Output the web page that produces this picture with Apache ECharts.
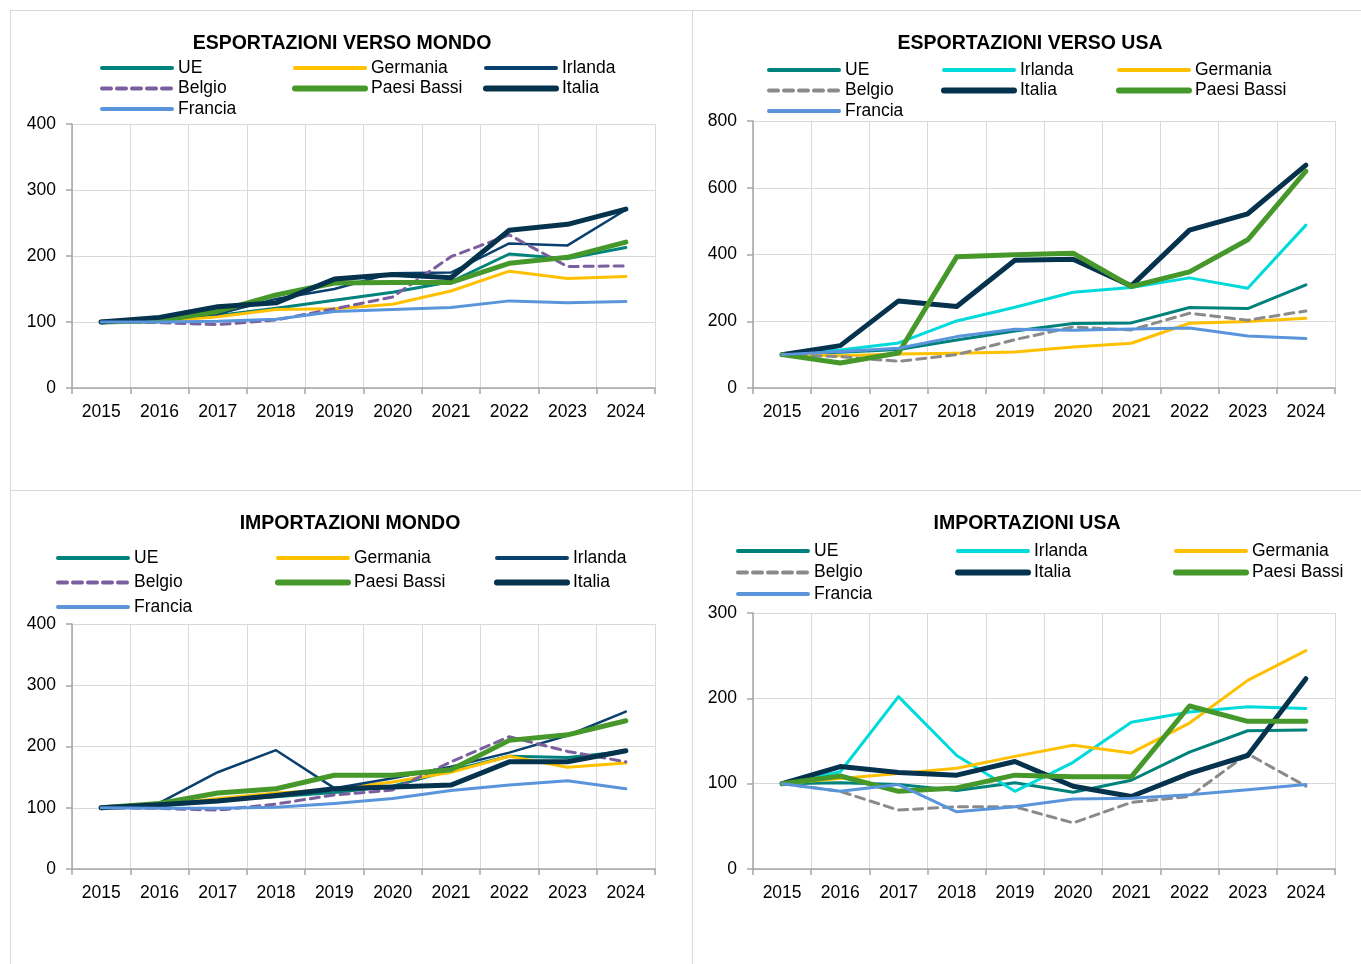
<!DOCTYPE html>
<html><head><meta charset="utf-8">
<script src="https://cdn.jsdelivr.net/npm/echarts@6/dist/echarts.min.js"></script>
<style>
html,body{margin:0;padding:0;background:#fff;width:1361px;height:964px;overflow:hidden;}
.panel{position:absolute;}
.ln{position:absolute;background:#d9d9d9;}
</style></head>
<body>
<div class="ln" style="left:10px;top:10px;width:1351px;height:1px"></div>
<div class="ln" style="left:10px;top:10px;width:1px;height:954px"></div>
<div class="ln" style="left:692px;top:10px;width:1px;height:954px"></div>
<div class="ln" style="left:10px;top:490px;width:1351px;height:1px"></div>
<div id="p1" class="panel" style="left:11px;top:11px;width:681px;height:479px"></div>
<div id="p2" class="panel" style="left:693px;top:11px;width:668px;height:479px"></div>
<div id="p3" class="panel" style="left:11px;top:491px;width:681px;height:473px"></div>
<div id="p4" class="panel" style="left:693px;top:491px;width:668px;height:473px"></div>
<script>
// ---- data ----
const years = ['2015','2016','2017','2018','2019','2020','2021','2022','2023','2024'];

// Esportazioni verso mondo
const expWorldUE       = [100,101,110,121,133,145,161,203,196,213];
const expWorldGermania = [100,101,108,119,120,127,147,177,166,169];
const expWorldIrlanda  = [100,105,112,135,150,174,175,219,216,270];
const expWorldBelgio   = [100,99,96,103,120,138,199,232,184,185];
const expWorldPB       = [100,102,116,141,159,160,160,189,198,221];
const expWorldItalia   = [100,107,123,129,165,172,167,239,248,271];
const expWorldFrancia  = [100,100,101,104,116,119,122,132,129,131];

// Esportazioni verso USA
const expUsaUE       = [100,107,115,144,171,193,195,241,238,309];
const expUsaIrlanda  = [100,114,135,201,242,287,301,330,299,488];
const expUsaGermania = [100,97,102,104,108,123,134,194,199,209];
const expUsaBelgio   = [100,94,80,100,145,183,174,224,203,231];
const expUsaItalia   = [100,127,261,244,383,386,306,473,522,668];
const expUsaPB       = [100,75,105,393,399,404,304,348,444,650];
const expUsaFrancia  = [100,109,119,154,176,173,177,180,156,148];

// Importazioni mondo
const impWorldUE       = [100,103,112,118,125,135,161,184,182,192];
const impWorldGermania = [100,104,115,124,130,142,158,184,166,173];
const impWorldIrlanda  = [100,108,158,194,132,148,167,190,218,257];
const impWorldBelgio   = [100,99,96,106,121,129,175,216,192,175];
const impWorldPB       = [100,107,124,131,153,153,162,210,219,242];
const impWorldItalia   = [100,105,111,120,131,134,137,175,175,193];
const impWorldFrancia  = [100,99,99,101,107,115,128,137,144,131];

// Importazioni USA
const impUsaUE       = [100,101,99,92,101,90,104,137,162,163];
const impUsaIrlanda  = [100,114,202,133,91,125,172,184,190,188];
const impUsaGermania = [100,106,112,118,132,145,136,171,221,256];
const impUsaBelgio   = [100,91,69,73,73,54,78,85,135,97];
const impUsaItalia   = [100,120,113,110,126,97,85,112,133,223];
const impUsaPB       = [100,109,91,95,110,108,108,191,173,173];
const impUsaFrancia  = [100,91,99,67,73,82,83,87,93,99];

// ---- styles ----
const FONT = "'Liberation Sans',Arial,sans-serif";
const ST = {
  UE:        {color:'#00827C', width:3,   lw:4},
  Germania:  {color:'#FFC000', width:3,   lw:4},
  IrlandaW:  {color:'#0A406E', width:2.5, lw:4},
  IrlandaU:  {color:'#00DADA', width:3,   lw:4},
  BelgioW:   {color:'#7A5E9E', width:3,   lw:4, dash:[9,6]},
  BelgioU:   {color:'#8A8A8A', width:3,   lw:4, dash:[9,6]},
  PB:        {color:'#46982A', width:5,   lw:6},
  Italia:    {color:'#05324C', width:5,   lw:6},
  Francia:   {color:'#5A95DC', width:3,   lw:4}
};

function mkSeries(name, data, st){
  return {
    name: name, type:'line', data: data, symbol:'none', animation:false,
    lineStyle:{color:st.color, width:st.width, type: st.dash || 'solid', cap:'round', join:'round'},
    itemStyle:{color:st.color}
  };
}

function mkOption(cfg){
  const styleOf = {};
  cfg.series.forEach((s,i)=>{ styleOf[s.name] = cfg.styles[i]; });
  const leg = cfg.cols.map(c => ({
    left:c.left, top:cfg.legTop, orient:'vertical', padding:0,
    itemWidth:70, itemHeight:20, itemGap:cfg.legGap, selectedMode:false,
    itemStyle:{opacity:0},
    data:c.names.map(n => ({name:n,
      lineStyle:{color:styleOf[n].color, width:styleOf[n].lw, type:styleOf[n].dash || 'solid', cap:'round', opacity:1}})),
    textStyle:{fontFamily:FONT, fontSize:17.5, color:'#000', lineHeight:20, padding:[0,0,0,1]}
  }));
  return {
    animation:false,
    title:{text:cfg.title, left:cfg.titleX, top:cfg.titleY, textAlign:'center', padding:0,
      textStyle:{fontFamily:FONT, fontWeight:'bold', fontSize:19.5, color:'#000'}},
    legend: leg,
    grid:{left:cfg.grid[0], top:cfg.grid[1], width:cfg.grid[2], height:cfg.grid[3], containLabel:false},
    xAxis:{type:'category', data:years, boundaryGap:true,
      axisLine:{lineStyle:{color:'#a6a6a6', width:1.5}},
      axisTick:{show:true, length:6, lineStyle:{color:'#a6a6a6', width:1.5}},
      splitLine:{show:true, lineStyle:{color:'#d9d9d9', width:1}},
      axisLabel:{color:'#000', fontFamily:FONT, fontSize:17.5, margin:15}},
    yAxis:{type:'value', min:0, max:cfg.yMax, interval:cfg.yInt,
      axisLine:{show:true, lineStyle:{color:'#a6a6a6', width:1.5}},
      axisTick:{show:true, length:6, lineStyle:{color:'#a6a6a6', width:1.5}},
      splitLine:{show:true, lineStyle:{color:'#d9d9d9', width:1}},
      axisLabel:{color:'#000', fontFamily:FONT, fontSize:17.5, margin:16}},
    series: cfg.series
  };
}

const opt1 = mkOption({
  title:'ESPORTAZIONI VERSO MONDO', titleX:331, titleY:23,
  grid:[61,113,583,264], yMax:400, yInt:100, legTop:47, legGap:0.5,
  cols:[{left:89,names:['UE','Belgio','Francia']},{left:281,names:['Germania','Paesi Bassi']},{left:472,names:['Irlanda','Italia']}],
  styles:[ST.UE, ST.Germania, ST.IrlandaW, ST.BelgioW, ST.PB, ST.Italia, ST.Francia],
  series:[
    mkSeries('UE', expWorldUE, ST.UE),
    mkSeries('Germania', expWorldGermania, ST.Germania),
    mkSeries('Irlanda', expWorldIrlanda, ST.IrlandaW),
    mkSeries('Belgio', expWorldBelgio, ST.BelgioW),
    mkSeries('Paesi Bassi', expWorldPB, ST.PB),
    mkSeries('Italia', expWorldItalia, ST.Italia),
    mkSeries('Francia', expWorldFrancia, ST.Francia)
  ]
});
const opt2 = mkOption({
  title:'ESPORTAZIONI VERSO USA', titleX:337, titleY:23,
  grid:[60,110,582,267], yMax:800, yInt:200, legTop:49, legGap:0.5,
  cols:[{left:74,names:['UE','Belgio','Francia']},{left:248,names:['Irlanda','Italia']},{left:423,names:['Germania','Paesi Bassi']}],
  styles:[ST.UE, ST.IrlandaU, ST.Germania, ST.BelgioU, ST.Italia, ST.PB, ST.Francia],
  series:[
    mkSeries('UE', expUsaUE, ST.UE),
    mkSeries('Irlanda', expUsaIrlanda, ST.IrlandaU),
    mkSeries('Germania', expUsaGermania, ST.Germania),
    mkSeries('Belgio', expUsaBelgio, ST.BelgioU),
    mkSeries('Italia', expUsaItalia, ST.Italia),
    mkSeries('Paesi Bassi', expUsaPB, ST.PB),
    mkSeries('Francia', expUsaFrancia, ST.Francia)
  ]
});
const opt3 = mkOption({
  title:'IMPORTAZIONI MONDO', titleX:339, titleY:23,
  grid:[61,133,583,245], yMax:400, yInt:100, legTop:57, legGap:4.5,
  cols:[{left:45,names:['UE','Belgio','Francia']},{left:264,names:['Germania','Paesi Bassi']},{left:483,names:['Irlanda','Italia']}],
  styles:[ST.UE, ST.Germania, ST.IrlandaW, ST.BelgioW, ST.PB, ST.Italia, ST.Francia],
  series:[
    mkSeries('UE', impWorldUE, ST.UE),
    mkSeries('Germania', impWorldGermania, ST.Germania),
    mkSeries('Irlanda', impWorldIrlanda, ST.IrlandaW),
    mkSeries('Belgio', impWorldBelgio, ST.BelgioW),
    mkSeries('Paesi Bassi', impWorldPB, ST.PB),
    mkSeries('Italia', impWorldItalia, ST.Italia),
    mkSeries('Francia', impWorldFrancia, ST.Francia)
  ]
});
const opt4 = mkOption({
  title:'IMPORTAZIONI USA', titleX:334, titleY:23,
  grid:[60,122,582,256], yMax:300, yInt:100, legTop:50, legGap:1.5,
  cols:[{left:43,names:['UE','Belgio','Francia']},{left:262,names:['Irlanda','Italia']},{left:480,names:['Germania','Paesi Bassi']}],
  styles:[ST.UE, ST.IrlandaU, ST.Germania, ST.BelgioU, ST.Italia, ST.PB, ST.Francia],
  series:[
    mkSeries('UE', impUsaUE, ST.UE),
    mkSeries('Irlanda', impUsaIrlanda, ST.IrlandaU),
    mkSeries('Germania', impUsaGermania, ST.Germania),
    mkSeries('Belgio', impUsaBelgio, ST.BelgioU),
    mkSeries('Italia', impUsaItalia, ST.Italia),
    mkSeries('Paesi Bassi', impUsaPB, ST.PB),
    mkSeries('Francia', impUsaFrancia, ST.Francia)
  ]
});

[['p1',opt1],['p2',opt2],['p3',opt3],['p4',opt4]].forEach(([id,o])=>{
  const c = echarts.init(document.getElementById(id), null, {renderer:'canvas'});
  c.setOption(o);
});
</script>
</body></html>
